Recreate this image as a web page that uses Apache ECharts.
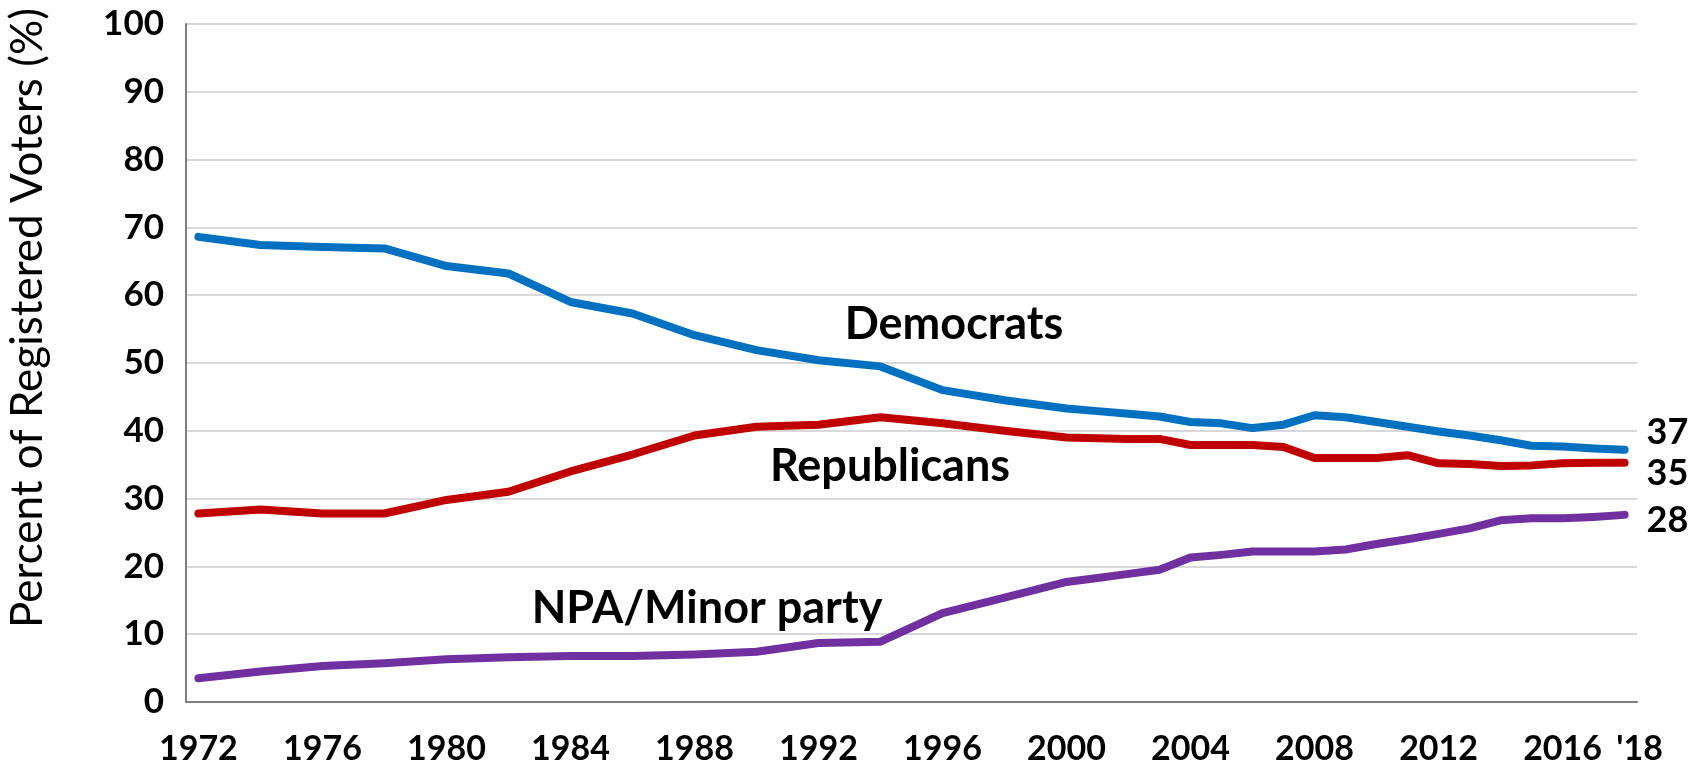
<!DOCTYPE html>
<html>
<head>
<meta charset="utf-8">
<script src="https://cdn.jsdelivr.net/npm/echarts@6/dist/echarts.min.js"></script>
<style>
  html, body { margin: 0; padding: 0; background: #fff; }
  #chart { width: 1707px; height: 771px; }
</style>
</head>
<body>
<div id="chart"></div>
<script>
const years = [1972,1974,1976,1978,1980,1982,1984,1986,1988,1990,1992,1994,1996,1998,2000,
  2001,2002,2003,2004,2005,2006,2007,2008,2009,2010,2011,2012,2013,2014,2015,2016,2017,2018];
const democrats = [68.6,67.4,67.1,66.9,64.3,63.2,59.0,57.3,54.1,51.9,50.4,49.5,46.0,44.5,43.3,
  42.9,42.5,42.1,41.3,41.1,40.4,40.9,42.3,42.0,41.3,40.6,39.9,39.3,38.6,37.8,37.7,37.4,37.2];
const republicans = [27.8,28.4,27.8,27.8,29.8,31.0,34.0,36.5,39.3,40.6,40.9,42.0,41.1,40.0,39.0,
  38.9,38.8,38.8,37.9,37.9,37.9,37.6,36.0,36.0,36.0,36.4,35.2,35.1,34.8,34.9,35.2,35.3,35.3];
const npaMinor = [3.5,4.5,5.3,5.7,6.3,6.6,6.8,6.8,7.0,7.4,8.7,8.9,13.1,15.4,17.7,
  18.3,18.9,19.5,21.3,21.7,22.2,22.2,22.2,22.5,23.3,24.0,24.8,25.6,26.8,27.1,27.1,27.3,27.6];
const xTickYears = [1972,1976,1980,1984,1988,1992,1996,2000,2004,2008,2012,2016,2018];
const seriesNames = ['Democrats','Republicans','NPA/Minor party'];
const yAxisTitle = 'Percent of Registered Voters (%)';

const FONT = 'Lato';
const pair = arr => years.map((y, i) => [y, arr[i]]);

function lineSeries(name, values, color, labelOffset) {
  return {
    name: name,
    type: 'line',
    data: pair(values),
    symbol: 'none',
    smooth: false,
    lineStyle: { color: color, width: 8, cap: 'round', join: 'round' },
    itemStyle: { color: color },
    endLabel: {
      show: true,
      formatter: p => String(Math.round(p.value[1])),
      fontFamily: FONT, fontWeight: 'bold', fontSize: 36, color: '#000',
      distance: 22, offset: labelOffset
    },
    emphasis: { disabled: true },
    z: 3
  };
}

const chart = echarts.init(document.getElementById('chart'), null, { renderer: 'canvas' });
chart.setOption({
  animation: false,
  backgroundColor: '#fff',
  grid: { left: 186, right: 70, top: 24, bottom: 69, containLabel: false, outerBoundsMode: 'none' },
  xAxis: {
    type: 'value',
    min: 1971.6, max: 2018.4,
    axisLine: { show: true, lineStyle: { color: '#7f7f7f', width: 2 } },
    axisTick: { show: false },
    splitLine: { show: false },
    axisLabel: {
      customValues: xTickYears,
      formatter: v => v === 2018 ? "{r|'18}" : String(v),
      fontFamily: FONT, fontWeight: 'bold', fontSize: 34, color: '#000', margin: 30,
      showMinLabel: true, showMaxLabel: true, hideOverlap: false,
      rich: { r: { fontFamily: FONT, fontWeight: 'bold', fontSize: 34, color: '#000', padding: [0, 0, 0, 30] } }
    }
  },
  yAxis: {
    type: 'value',
    min: 0, max: 100, interval: 10,
    axisLine: { show: true, lineStyle: { color: '#7f7f7f', width: 2 } },
    axisTick: { show: false },
    splitLine: { show: true, lineStyle: { color: '#d9d9d9', width: 2 } },
    axisLabel: { fontFamily: FONT, fontWeight: 'bold', fontSize: 35, color: '#000', margin: 22 }
  },
  graphic: [
    { type: 'text', x: 28, y: 318, rotation: Math.PI / 2,
      style: { text: yAxisTitle, fontFamily: FONT, fontWeight: 'normal', fontSize: 44, fill: '#000',
               textAlign: 'center', textVerticalAlign: 'middle' } },
    { type: 'text', x: 954, y: 324,
      style: { text: seriesNames[0], fontFamily: FONT, fontWeight: 'bold', fontSize: 45, fill: '#000',
               textAlign: 'center', textVerticalAlign: 'middle' } },
    { type: 'text', x: 890, y: 466,
      style: { text: seriesNames[1], fontFamily: FONT, fontWeight: 'bold', fontSize: 45, fill: '#000',
               textAlign: 'center', textVerticalAlign: 'middle' } },
    { type: 'text', x: 707, y: 608,
      style: { text: seriesNames[2], fontFamily: FONT, fontWeight: 'bold', fontSize: 45, fill: '#000',
               textAlign: 'center', textVerticalAlign: 'middle' } }
  ],
  series: [
    lineSeries(seriesNames[0], democrats, '#0070C0', [0, -17]),
    lineSeries(seriesNames[1], republicans, '#C00000', [0, 11]),
    lineSeries(seriesNames[2], npaMinor, '#7030A0', [0, 6])
  ]
});
</script>
</body>
</html>
